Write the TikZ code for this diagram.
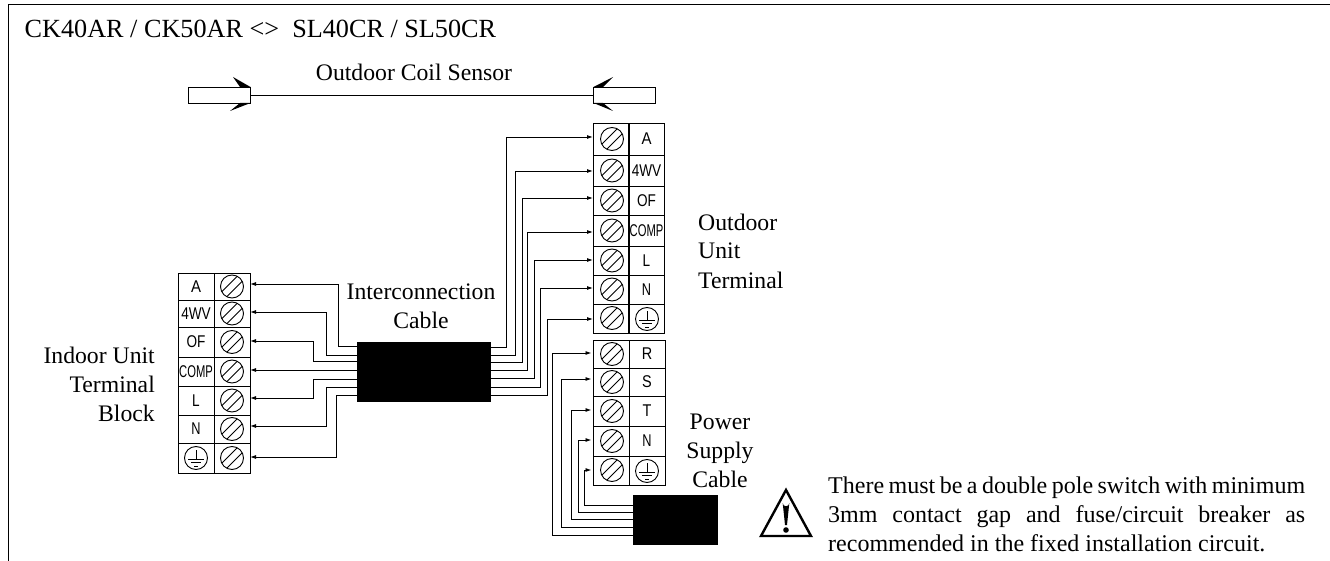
\documentclass[tikz,border=0pt]{standalone}
\usepackage{fontspec}
\setmainfont{Liberation Serif}
\newfontfamily\termfont{Liberation Sans}
\usetikzlibrary{arrows.meta}
\tikzset{
  cell/.style={draw, line width=.9pt, minimum width=36pt, inner sep=0pt, outer sep=0pt, font=\termfont\fontsize{17}{17}\selectfont},
  screw/.style={circle, draw, line width=.9pt, minimum size=23pt, inner sep=0pt,
    path picture={
      \draw[line width=.9pt] ([shift={(-12,7)}]path picture bounding box.center)--([shift={(7,-12)}]path picture bounding box.center);
      \draw[line width=.9pt] ([shift={(-7,12)}]path picture bounding box.center)--([shift={(12,-7)}]path picture bounding box.center);
    }},
  earth/.style={circle, draw, line width=.9pt, minimum size=23pt, inner sep=0pt,
    path picture={
      \draw[line width=.9pt] ([shift={(0,-8)}]path picture bounding box.center)--([shift={(0,1)}]path picture bounding box.center);
      \draw[line width=.9pt] ([shift={(-8,1)}]path picture bounding box.center)--([shift={(8,1)}]path picture bounding box.center);
      \draw[line width=.9pt] ([shift={(-5,4.5)}]path picture bounding box.center)--([shift={(5,4.5)}]path picture bounding box.center);
      \draw[line width=.9pt] ([shift={(-2,8)}]path picture bounding box.center)--([shift={(2,8)}]path picture bounding box.center);
    }},
  cable/.style={fill=black, draw=black, inner sep=0pt, outer sep=0pt},
  wire/.style={line width=.9pt, -{Latex[length=6pt,width=4pt]}},
  probe/.style={draw, line width=.9pt, fill=white, minimum width=62pt, minimum height=16pt, inner sep=0pt, outer sep=0pt},
  lbl/.style={font=\fontsize{23.7}{29}\selectfont, inner sep=0pt}
}
\newcommand{\narrow}[2]{\scalebox{#1}[1]{#2}}
\newcommand{\fitline}[1]{\hbox to 477pt{\spaceskip=2pt plus 1fil #1}}
\begin{document}
\begin{tikzpicture}[x=1pt,y=-1pt]
  \useasboundingbox (0,0) rectangle (1330,561);
  % frame
  \coordinate (fa) at (8,561);
  \coordinate (fb) at (8,4);
  \coordinate (fc) at (1330,4);
  \draw[line width=.9pt] (fa)--(fb)--(fc);
  \node[lbl, font=\fontsize{26.2}{29}\selectfont, anchor=base west] (title) at (24.5,38) {CK40AR / CK50AR <>\ \ SL40CR / SL50CR};

  % sensor
  \node[probe] (pl) at (219.5,95) {};
  \node[probe] (pr) at (624.5,95) {};
  \draw[line width=.9pt] (pl.east)--(pr.west);
  \fill (pl.north east)--(233,77)--(240,87)--cycle;
  \fill (pl.south east)--(230,111)--(240,103)--cycle;
  \fill (pr.north west)--(613,77)--(603,87)--cycle;
  \fill (pr.south west)--(613,111)--(603,103)--cycle;
  \node[lbl, anchor=base] (sensor) at (414,81) {Outdoor Coil Sensor};

  % indoor block
  \foreach \n/\t/\y/\h in {a/\narrow{.88}{A}/286.5/27,b/\narrow{.8}{4WV}/313.5/27,c/\narrow{.8}{OF}/342/30,d/\narrow{.66}{COMP}/371.5/29,e/\narrow{.8}{L}/400.5/29,f/\narrow{.75}{N}/429/28}{
    \node[cell, minimum height=\h pt] (in\n) at (196,\y) {\t};
    \node[cell, minimum height=\h pt] (is\n) at (232,\y) {};
    \node[screw] (sc\n) at (232,\y) {};
  }
  \node[cell, minimum height=30pt] (ing) at (196,458) {};
  \node[cell, minimum height=30pt] (isg) at (232,458) {};
  \node[earth] (eg) at (196,458) {};
  \node[screw] (scg) at (232,458) {};
  \node[lbl, align=right, anchor=base east] (indoor) at (155,421) {Indoor Unit\\Terminal\\Block};

  % interconnection cable
  \node[cable, minimum width=133pt, minimum height=59pt] (cab) at (423.5,371.5) {};
  \node[lbl, align=center, anchor=base] (inter) at (421,328) {Interconnection\\Cable};
  \foreach \n/\x/\y/\z in {a/338/346/284,b/326/355/312,c/313/361/341,e/313/379/398,f/326/387/426,g/336/395/457}{
    \coordinate (p\n) at (cab.west |- 0,\y);
    \coordinate (t\n) at (is\n.east |- 0,\z);
    \draw[wire] (p\n)-|(\x,\z)--(t\n);
  }
  \coordinate (pd) at (cab.west |- 0,370);
  \draw[wire] (pd)--(isd.east |- pd);

  % outdoor terminal
  \foreach \n/\t/\y/\h in {a/\narrow{.88}{A}/139/32,b/\narrow{.8}{4WV}/170.5/31,c/\narrow{.8}{OF}/200.5/29,d/\narrow{.66}{COMP}/230.5/31,e/\narrow{.8}{L}/260.5/29,f/\narrow{.75}{N}/289.5/29}{
    \node[cell, minimum height=\h pt] (os\n) at (611,\y) {};
    \node[cell, minimum height=\h pt] (on\n) at (646.5,\y) {\t};
    \node[screw] (oc\n) at (612,\y) {};
  }
  \node[cell, minimum height=29pt] (osg) at (611,318.5) {};
  \node[cell, minimum height=29pt] (ong) at (646.5,318.5) {};
  \node[earth] (oe) at (647,319) {};
  \node[screw] (ocg) at (612,318) {};
  \node[lbl, align=left, anchor=base west] (outdoor) at (698,288) {Outdoor\\Unit\\Terminal};
  \foreach \n/\x/\y/\z in {a/506/347/137,b/515/355/171,c/522/362/198,d/527/370/232,e/534/378/260,f/540/387/288,g/547/395/319}{
    \coordinate (q\n) at (cab.east |- 0,\y);
    \coordinate (u\n) at (os\n.west |- 0,\z);
    \draw[wire] (q\n)-|(\x,\z)--(u\n);
  }

  % power terminal
  \foreach \n/\t/\y/\h in {r/\narrow{.85}{R}/354/28,s/\narrow{.85}{S}/382/28,t/\narrow{.85}{T}/411/30,n/\narrow{.75}{N}/441/30}{
    \node[cell, minimum height=\h pt] (ps\n) at (611.5,\y) {};
    \node[cell, minimum height=\h pt] (pn\n) at (647,\y) {\t};
    \node[screw] (pc\n) at (612,\y) {};
  }
  \node[cell, minimum height=29pt] (psg) at (611.5,470.5) {};
  \node[cell, minimum height=29pt] (png) at (647,470.5) {};
  \node[earth] (pe) at (647,471) {};
  \node[screw] (pcg) at (612,470) {};
  \node[lbl, align=center, anchor=base] (power) at (720,487) {Power\\Supply\\Cable};

  % power cable
  \node[cable, minimum width=84pt, minimum height=49pt] (pwr) at (675,519.5) {};
  \foreach \n/\x/\y/\z in {r/552/535/353,s/561/527/379,t/571/519/410,n/578/512/440,g/584/505/470}{
    \coordinate (v\n) at (pwr.west |- 0,\y);
    \coordinate (w\n) at ([xshift=-2pt]ps\n.west |- 0,\z);
    \draw[wire] (v\n)-|(\x,\z)--(w\n);
  }

  % warning
  \draw[line width=2.4pt, line join=miter] (786,490)--(811,536)--(761,536)--cycle;
  \fill (782.7,503) arc (180:360:3.3 and -3.3) -- (787,525) -- (785,525) -- cycle;
  \fill (786,530) circle (2.8);
  \node[lbl, anchor=base west, align=left, font=\fontsize{24}{29}\selectfont] (note) at (828,551) {\fitline{There must be a double pole switch with minimum}\\\fitline{3mm contact gap and fuse/circuit breaker as}\\recommended in the fixed installation circuit.};
\end{tikzpicture}
\end{document}
